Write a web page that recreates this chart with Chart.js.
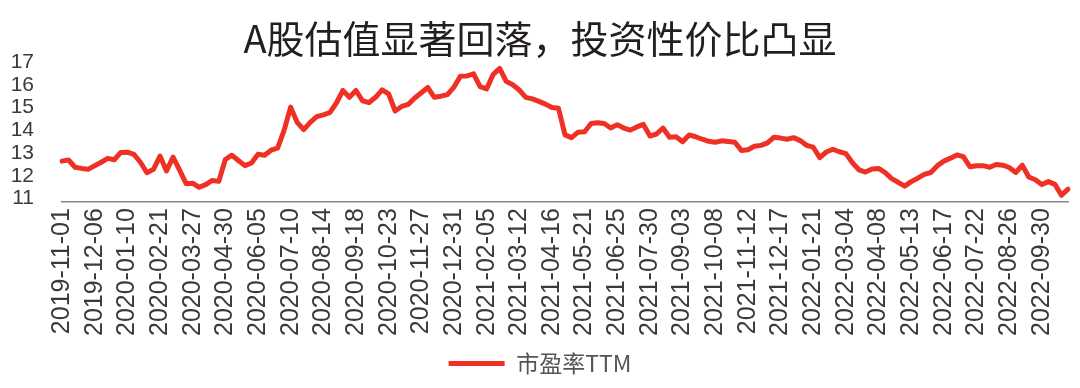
<!DOCTYPE html>
<html>
<head>
<meta charset="utf-8">
<script src="https://cdn.jsdelivr.net/npm/chart.js@4/dist/chart.umd.min.js"></script>
<style>
  body { margin: 0; background: #fff; }
  #wrap { width: 1080px; height: 388px; }
</style>
</head>
<body>
<div id="wrap"><canvas id="chart1"></canvas></div>
<script>
// weekly dates (holiday weeks left out, as in the source)
const dates = [
  '2019-11-01','2019-11-08','2019-11-15','2019-11-22','2019-11-29',
  '2019-12-06','2019-12-13','2019-12-20','2019-12-27','2020-01-03',
  '2020-01-10','2020-01-17','2020-01-23','2020-02-07','2020-02-14',
  '2020-02-21','2020-02-28','2020-03-06','2020-03-13','2020-03-20',
  '2020-03-27','2020-04-03','2020-04-10','2020-04-17','2020-04-24',
  '2020-04-30','2020-05-08','2020-05-15','2020-05-22','2020-05-29',
  '2020-06-05','2020-06-12','2020-06-19','2020-06-24','2020-07-03',
  '2020-07-10','2020-07-17','2020-07-24','2020-07-31','2020-08-07',
  '2020-08-14','2020-08-21','2020-08-28','2020-09-04','2020-09-11',
  '2020-09-18','2020-09-25','2020-09-30','2020-10-09','2020-10-16',
  '2020-10-23','2020-10-30','2020-11-06','2020-11-13','2020-11-20',
  '2020-11-27','2020-12-04','2020-12-11','2020-12-18','2020-12-25',
  '2020-12-31','2021-01-08','2021-01-15','2021-01-22','2021-01-29',
  '2021-02-05','2021-02-10','2021-02-19','2021-02-26','2021-03-05',
  '2021-03-12','2021-03-19','2021-03-26','2021-04-02','2021-04-09',
  '2021-04-16','2021-04-23','2021-04-30','2021-05-07','2021-05-14',
  '2021-05-21','2021-05-28','2021-06-04','2021-06-11','2021-06-18',
  '2021-06-25','2021-07-02','2021-07-09','2021-07-16','2021-07-23',
  '2021-07-30','2021-08-06','2021-08-13','2021-08-20','2021-08-27',
  '2021-09-03','2021-09-10','2021-09-17','2021-09-24','2021-09-30',
  '2021-10-08','2021-10-15','2021-10-22','2021-10-29','2021-11-05',
  '2021-11-12','2021-11-19','2021-11-26','2021-12-03','2021-12-10',
  '2021-12-17','2021-12-24','2021-12-31','2022-01-07','2022-01-14',
  '2022-01-21','2022-01-28','2022-02-11','2022-02-18','2022-02-25',
  '2022-03-04','2022-03-11','2022-03-18','2022-03-25','2022-04-01',
  '2022-04-08','2022-04-15','2022-04-22','2022-04-29','2022-05-06',
  '2022-05-13','2022-05-20','2022-05-27','2022-06-02','2022-06-10',
  '2022-06-17','2022-06-24','2022-07-01','2022-07-08','2022-07-15',
  '2022-07-22','2022-07-29','2022-08-05','2022-08-12','2022-08-19',
  '2022-08-26','2022-09-02','2022-09-09','2022-09-16','2022-09-23',
  '2022-09-30','2022-10-14','2022-10-21','2022-10-28','2022-11-04'
];

// 市盈率TTM
const pe = [
  12.65, 12.70, 12.38, 12.33, 12.29, 12.45, 12.60, 12.77, 12.71, 13.03,
  13.04, 12.95, 12.60, 12.14, 12.29, 12.87, 12.22, 12.83, 12.25, 11.66,
  11.68, 11.50, 11.62, 11.80, 11.76, 12.72, 12.91, 12.68, 12.45, 12.57,
  12.95, 12.91, 13.13, 13.22, 14.00, 15.02, 14.35, 14.03, 14.35, 14.60,
  14.68, 14.78, 15.20, 15.75, 15.45, 15.75, 15.30, 15.22, 15.45, 15.78,
  15.60, 14.85, 15.05, 15.14, 15.42, 15.65, 15.88, 15.45, 15.50, 15.57,
  15.90, 16.38, 16.39, 16.48, 15.92, 15.82, 16.45, 16.72, 16.15, 16.00,
  15.77, 15.45, 15.38, 15.27, 15.15, 15.00, 14.97, 13.80, 13.68, 13.92,
  13.94, 14.30, 14.33, 14.30, 14.10, 14.25, 14.10, 14.01, 14.15, 14.26,
  13.75, 13.84, 14.10, 13.70, 13.72, 13.50, 13.80, 13.72, 13.61, 13.52,
  13.48, 13.54, 13.51, 13.48, 13.12, 13.15, 13.30, 13.34, 13.45, 13.70,
  13.66, 13.61, 13.68, 13.55, 13.34, 13.26, 12.80, 13.05, 13.17, 13.06,
  12.98, 12.58, 12.27, 12.17, 12.30, 12.33, 12.15, 11.88, 11.72, 11.55,
  11.75, 11.90, 12.07, 12.15, 12.45, 12.65, 12.78, 12.92, 12.84, 12.40,
  12.45, 12.45, 12.38, 12.50, 12.47, 12.37, 12.15, 12.47, 11.95, 11.83,
  11.62, 11.75, 11.63, 11.15, 11.42
];

const yTicks = [11, 12, 13, 14, 15, 16, 17];
const labelStep = 5;

const red = '#ee3124';
const textColor = '#3a3a3a';

const ctx1 = document.getElementById('chart1');

new Chart(ctx1, {
  type: 'line',
  data: {
    labels: dates,
    datasets: [{
      label: '市盈率TTM',
      data: pe,
      borderColor: red,
      backgroundColor: red,
      borderWidth: 5,
      borderCapStyle: 'round',
      borderJoinStyle: 'round',
      pointRadius: 0,
      tension: 0
    }]
  },
  options: {
    responsive: true,
    maintainAspectRatio: false,
    animation: false,
    layout: {
      padding: { left: 0, right: 0, top: 0, bottom: 3 }
    },
    scales: {
      x: {
        offset: false,
        grid: { display: false, drawTicks: false },
        border: { display: true, color: '#888', width: 1.5 },
        afterFit: function(axis) {
          // keep the plot running close to the right edge
          axis.paddingRight = 12;
        },
        ticks: {
          autoSkip: false,
          minRotation: 90,
          maxRotation: 90,
          padding: 6,
          color: textColor,
          font: { family: 'Liberation Sans', size: 25 },
          callback: function(val, i) {
            return i % labelStep === 0 ? dates[i] : '';
          }
        }
      },
      y: {
        min: 10.85,
        max: 17,
        grid: { display: false, drawTicks: false },
        border: { display: false },
        afterBuildTicks: function(axis) {
          axis.ticks = yTicks.map(v => ({ value: v }));
        },
        afterFit: function(axis) {
          axis.width = 62;
        },
        ticks: {
          autoSkip: false,
          padding: 28,
          color: textColor,
          font: { family: 'Liberation Sans', size: 21 }
        }
      }
    },
    plugins: {
      title: {
        display: true,
        text: 'A股估值显著回落，投资性价比凸显',
        color: '#231f20',
        font: { family: 'Noto Sans CJK SC', size: 38, weight: 'normal', lineHeight: 1.0 },
        padding: { top: 20, bottom: 4 }
      },
      legend: {
        position: 'bottom',
        labels: {
          usePointStyle: true,
          pointStyle: 'line',
          pointStyleWidth: 56,
          padding: 10,
          color: '#555',
          font: { family: 'Noto Sans CJK SC', size: 23 }
        }
      },
      tooltip: { enabled: false }
    }
  }
});
</script>
</body>
</html>
